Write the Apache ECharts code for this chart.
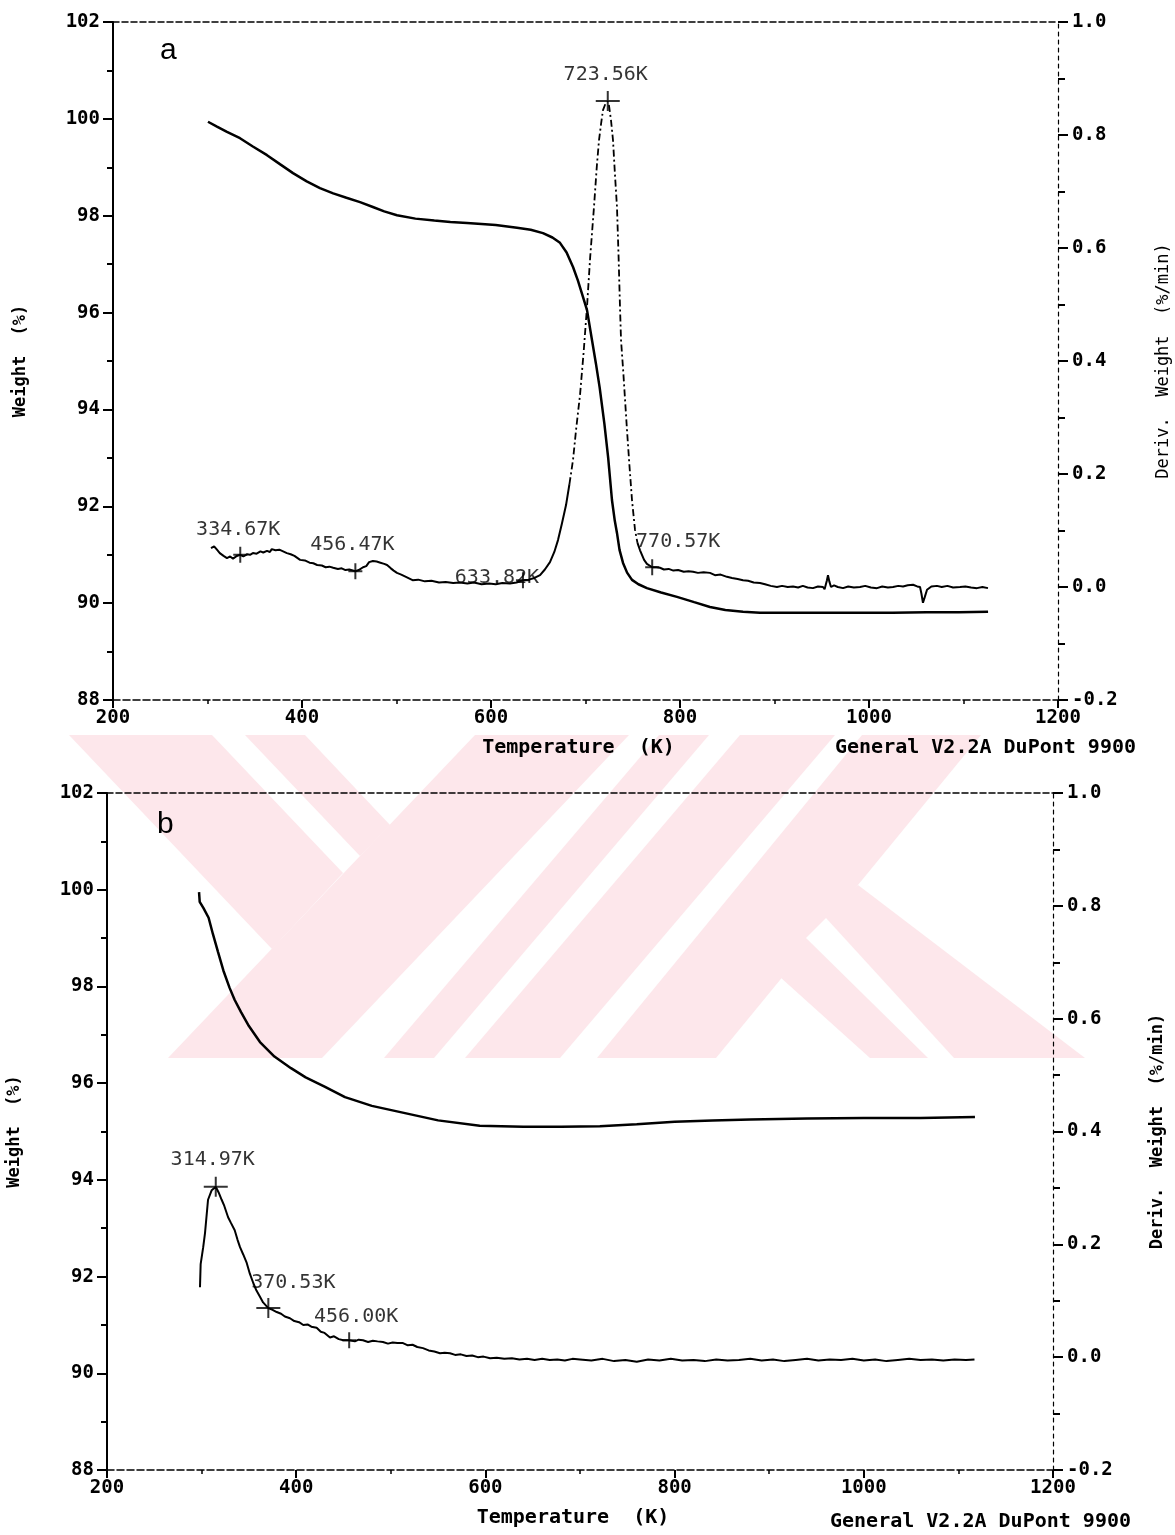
<!DOCTYPE html>
<html><head><meta charset="utf-8">
<script src="https://cdn.jsdelivr.net/npm/echarts@6/dist/echarts.min.js"></script>
<style>html,body{margin:0;padding:0;background:#fff}#c{width:1175px;height:1535px}</style>
</head><body><div id="c"></div>
<script>
// ---------- data ----------
const xTicks = [200, 400, 600, 800, 1000, 1200];
const weightTicks = [88, 90, 92, 94, 96, 98, 100, 102];
const derivTicks = [-0.2, 0.0, 0.2, 0.4, 0.6, 0.8, 1.0];

// panel a : weight (%) vs temperature (K)
const weightA = [
[300.5,99.94],[310,99.84],[320.6,99.73],[334.4,99.60],[348,99.43],[363,99.25],[377,99.06],
[390.5,98.88],[405,98.71],[419,98.57],[433,98.46],[447,98.37],[461.4,98.28],[475,98.18],
[487,98.09],[500.5,98.01],[520,97.94],[540,97.90],[557,97.87],[574.6,97.85],[590,97.83],
[605,97.81],[627.5,97.75],[642,97.71],[655,97.64],[665,97.55],[673,97.44],[680,97.24],
[686.8,96.94],[692,96.66],[697.4,96.32],[701.6,96.05],[706.9,95.43],[711,94.95],[715,94.45],
[720,93.70],[724,93.00],[728,92.13],[731,91.70],[733.3,91.45],[736,91.10],[739.7,90.83],
[744,90.63],[749.2,90.48],[756,90.39],[765,90.31],[780,90.22],[796.8,90.13],[815,90.02],
[831.7,89.92],[848,89.86],[866.7,89.82],[884.7,89.80],[920,89.80],[955.5,89.80],[990,89.80],
[1025,89.80],[1061,89.81],[1095,89.81],[1126,89.82]
];
// panel a : derivative weight (%/min)
const derivA = [
[303.7,0.069],[307,0.072],[310,0.066],[313,0.060],[317,0.055],[320.6,0.051],[324,0.054],
[327,0.050],[331,0.055],[334.67,0.057],[338,0.054],[342,0.058],[345,0.057],[348,0.060],
[352,0.059],[356,0.063],[359,0.061],[363,0.064],[366,0.062],[368,0.067],[372,0.065],
[376,0.066],[380,0.063],[384,0.060],[388,0.058],[392,0.055],[398,0.048],[403,0.047],
[408,0.043],[412,0.042],[416,0.039],[421,0.038],[425,0.035],[429,0.036],[433,0.034],
[438,0.032],[442,0.033],[446,0.030],[450,0.031],[456.47,0.028],[460,0.030],[464.6,0.035],
[468,0.037],[471,0.044],[475,0.046],[479,0.045],[483,0.043],[487,0.041],[490,0.039],
[494,0.033],[497,0.029],[500.5,0.025],[505,0.022],[510,0.018],[517,0.012],[523,0.013],
[530,0.010],[537,0.011],[545,0.008],[552,0.009],[560,0.007],[567,0.008],[575,0.006],
[582,0.008],[590,0.005],[598,0.006],[605,0.005],[612,0.007],[620,0.006],[627,0.008],
[633.82,0.012],[640,0.013],[646,0.016],[651.9,0.021],[657,0.031],[662.4,0.044],[667,0.062],
[670.9,0.083],[675,0.112],[679.4,0.145],[683,0.182],[686.8,0.225],[690,0.278],[694.2,0.340],
[698,0.415],[701.6,0.496],[705,0.585],[709,0.673],[712,0.745],[714.3,0.791],[716.5,0.820],
[718.5,0.844],[721,0.855],[723.56,0.860],[724.9,0.852],[727,0.826],[729.1,0.791],[731,0.735],
[733.3,0.673],[735,0.585],[736.5,0.496],[737.6,0.437],[740,0.380],[743.9,0.278],[746.5,0.215],
[749.2,0.154],[752.4,0.101],[755,0.078],[757.7,0.065],[762,0.048],[765,0.041],[770.57,0.035],
[775,0.035],[778.8,0.034],[783,0.031],[788,0.032],[793,0.029],[798,0.030],[804,0.027],
[809,0.028],[813.8,0.027],[819,0.025],[825,0.026],[831.7,0.025],[837,0.021],[843,0.022],
[849.7,0.018],[855,0.016],[861,0.014],[866.7,0.012],[872,0.011],[878,0.008],[884.7,0.007],
[890,0.005],[896,0.002],[902.6,0.000],[908,0.002],[914,0.000],[919.6,0.001],[925,-0.001],
[930,0.002],[935,-0.001],[940.7,-0.002],[946,0.001],[951.3,0.000],[953,-0.004],[955.5,0.012],
[956.6,0.021],[958,0.010],[959.8,0.000],[963,0.003],[967,0.000],[972.5,-0.002],[978,0.001],
[984,-0.001],[990.5,0.000],[996,0.002],[1002,-0.001],[1008.5,-0.002],[1014,0.001],[1020,-0.001],
[1025.4,0.000],[1031,0.002],[1036,0.001],[1041,0.003],[1046.6,0.004],[1051,0.001],[1054,0.000],
[1055.5,-0.012],[1057.1,-0.028],[1059,-0.018],[1061.4,-0.005],[1066,0.001],[1071.9,0.002],
[1077,0.000],[1083,0.002],[1089,-0.001],[1096.3,0.000],[1102,0.001],[1108,-0.001],
[1114.3,-0.002],[1120,0.000],[1125.9,-0.002]
];
const peaksA = [[334.67,0.057],[456.47,0.028],[633.82,0.012],[723.56,0.860],[770.57,0.035]];
const peakLabelsA = ['334.67K','456.47K','633.82K','723.56K','770.57K'];

// panel b
const weightB = [
[297.3,99.95],[298,99.75],[302,99.62],[307.4,99.42],[312,99.08],[317.4,98.71],[323,98.33],
[329.6,97.97],[335,97.72],[341.7,97.47],[350,97.18],[361.7,96.85],[377,96.55],[394.5,96.31],
[410,96.12],[430,95.93],[451.6,95.71],[480,95.53],[515,95.38],[550,95.23],[594,95.12],
[640,95.10],[680,95.10],[721,95.11],[760,95.15],[800,95.20],[840,95.23],[880,95.25],
[940,95.27],[1000,95.28],[1060,95.28],[1117.5,95.30]
];
const derivB = [
[298.3,0.124],[299,0.165],[301.7,0.195],[303.6,0.220],[306.8,0.279],[310.7,0.296],[314.97,0.302],
[318,0.292],[321.2,0.279],[324,0.268],[328,0.248],[331,0.238],[335,0.225],[338,0.208],
[340.6,0.195],[344,0.182],[347.7,0.167],[351,0.148],[354.7,0.131],[358,0.118],[361.7,0.107],
[365,0.097],[370.53,0.087],[375,0.084],[379.4,0.080],[384,0.077],[388,0.072],[393.4,0.069],
[398,0.064],[403,0.062],[407.5,0.057],[412,0.058],[416,0.054],[421.6,0.052],[426,0.045],
[430,0.043],[435.7,0.035],[440,0.037],[445,0.032],[449.8,0.030],[456.0,0.030],[462,0.028],
[466,0.031],[470.6,0.030],[476,0.027],[481,0.029],[486,0.028],[491.7,0.027],[497,0.024],
[502,0.026],[507,0.025],[512.9,0.025],[518,0.021],[523,0.022],[528,0.018],[534,0.016],
[540,0.012],[546,0.010],[552,0.007],[557,0.008],[562.6,0.007],[568,0.004],[574,0.005],
[580,0.002],[586,0.003],[592,0.000],[598,0.001],[605,-0.002],[612,-0.001],[620,-0.003],
[628,-0.002],[636,-0.004],[644,-0.003],[652,-0.005],[660,-0.003],[668,-0.005],[676,-0.004],
[684,-0.006],[692,-0.003],[700,-0.004],[712,-0.006],[724,-0.003],[736,-0.007],[748,-0.005],
[760,-0.008],[772,-0.004],[784,-0.006],[796,-0.003],[808,-0.006],[820,-0.005],[832,-0.007],
[844,-0.004],[856,-0.006],[868,-0.005],[880,-0.003],[892,-0.006],[904,-0.004],[916,-0.007],
[928,-0.005],[940,-0.003],[952,-0.006],[964,-0.004],[976,-0.005],[988,-0.003],[1000,-0.006],
[1012,-0.004],[1024,-0.007],[1036,-0.005],[1048,-0.003],[1060,-0.005],[1072,-0.004],
[1084,-0.006],[1096,-0.004],[1108,-0.005],[1117,-0.004]
];
const peaksB = [[314.97,0.302],[370.53,0.087],[456.00,0.030]];
const peakLabelsB = ['314.97K','370.53K','456.00K'];

// ---------- styling (positions, not data) ----------
const labelOffsetsA = [[-2,-25],[-3,-26],[-26,-2],[-2,-26],[26,-25]];
const bigMarkA = [false,false,false,true,false];
const labelOffsetsB = [[-3,-27],[25,-25],[7,-23]];
const bigMarkB = [true,true,false];

const MONO = '"DejaVu Sans Mono", "Liberation Mono", monospace';
const BIG = 'path://M-1,-10L1,-10L1,-1L12,-1L12,1L1,1L1,10L-1,10L-1,1L-12,1L-12,-1L-1,-1Z';
const SMALL = 'path://M-1,-8L1,-8L1,-1L7,-1L7,1L1,1L1,8L-1,8L-1,1L-7,1L-7,-1L-1,-1Z';

const grids = [
  {left: 113, top: 22, width: 945, height: 678, outerBoundsMode: 'none', containLabel: false},
  {left: 107, top: 793, width: 946, height: 677, outerBoundsMode: 'none', containLabel: false}
];

function xAxes(gi) {
  return [
    {gridIndex: gi, type: 'value', min: xTicks[0], max: xTicks[xTicks.length-1],
     interval: xTicks[1]-xTicks[0], position: 'bottom',
     name: 'Temperature  (K)', nameLocation: 'middle', nameGap: 38,
     nameTextStyle: {fontFamily: MONO, fontSize: 20, fontWeight: 'bold', color: '#000', padding: [0, 14, 0, 0]},
     axisLine: {onZero: false, lineStyle: {color: '#000', width: 1.5, type: [7, 3]}},
     axisTick: {show: true, length: 8, lineStyle: {color: '#000', width: 2}},
     minorTick: {show: true, splitNumber: 2, length: 4, lineStyle: {color: '#000', width: 1.5}},
     axisLabel: {margin: 9, fontFamily: MONO, fontSize: 19, fontWeight: 'bold', color: '#000',
                 formatter: v => String(v)},
     splitLine: {show: false}},
    {gridIndex: gi, type: 'value', min: xTicks[0], max: xTicks[xTicks.length-1],
     interval: xTicks[1]-xTicks[0], position: 'top',
     axisLine: {onZero: false, lineStyle: {color: '#000', width: 1.5, type: [6, 3]}},
     axisTick: {show: false}, axisLabel: {show: false}, splitLine: {show: false}}
  ];
}
function yAxes(gi, rightBold, rightGap) {
  return [
    {gridIndex: gi, type: 'value', min: weightTicks[0], max: weightTicks[weightTicks.length-1],
     interval: weightTicks[1]-weightTicks[0], position: 'left',
     name: 'Weight  (%)', nameLocation: 'middle', nameGap: 84, nameRotate: 90,
     nameTextStyle: {fontFamily: MONO, fontSize: 17, fontWeight: 'bold', color: '#000'},
     axisLine: {onZero: false, lineStyle: {color: '#000', width: 2}},
     axisTick: {length: 10, lineStyle: {color: '#000', width: 2}},
     minorTick: {show: true, splitNumber: 2, length: 6, lineStyle: {color: '#000', width: 2}},
     axisLabel: {margin: 13, fontFamily: MONO, fontSize: 19, fontWeight: 'bold', color: '#000',
                 formatter: v => String(v)},
     splitLine: {show: false}},
    {gridIndex: gi, type: 'value', min: derivTicks[0], max: derivTicks[derivTicks.length-1],
     interval: 0.2, position: 'right',
     name: 'Deriv.  Weight  (%/min)', nameLocation: 'middle', nameGap: rightGap, nameRotate: 90,
     nameTextStyle: {fontFamily: MONO, fontSize: 17, fontWeight: rightBold ? 'bold' : 'normal', color: '#000'},
     axisLine: {onZero: false, lineStyle: {color: '#000', width: 1.2, type: [4, 4]}},
     axisTick: {length: 10, lineStyle: {color: '#000', width: 2}},
     minorTick: {show: true, splitNumber: 2, length: 7, lineStyle: {color: '#000', width: 2}},
     axisLabel: {margin: 14, fontFamily: MONO, fontSize: 19, fontWeight: 'bold', color: '#000',
                 formatter: v => v.toFixed(1)},
     splitLine: {show: false}}
  ];
}

function lineSeries(data, xi, yi, width, dash) {
  return {type: 'line', data: data, xAxisIndex: xi, yAxisIndex: yi, showSymbol: false,
          symbol: 'none', smooth: false, silent: true, animation: false, z: 3,
          lineStyle: {color: '#000', width: width, type: dash || 'solid'}};
}
function markSeries(pts, labels, offsets, bigs, xi, yi) {
  return {type: 'scatter', xAxisIndex: xi, yAxisIndex: yi, animation: false, z: 4,
    data: pts.map((p, i) => ({
      value: p, symbol: bigs[i] ? BIG : SMALL, symbolSize: bigs[i] ? [24, 20] : [14, 16],
      label: {show: true, position: 'inside', offset: offsets[i], formatter: labels[i],
              color: '#000', textBorderWidth: 0, fontFamily: MONO, fontSize: 20}
    })),
    itemStyle: {color: '#000'},
    label: {fontFamily: MONO, fontSize: 20, color: '#000', fontWeight: 'normal', textBorderWidth: 0}};
}

const derivA1 = derivA.filter(p => p[0] <= 683);
const derivA2 = derivA.filter(p => p[0] >= 683 && p[0] <= 755);
const derivA3 = derivA.filter(p => p[0] >= 755);

// watermark (background decoration)
const PINK = '#fde7eb';
const wmPink = [
  [[69,735],[212,735],[343,873],[272,949]],
  [[245,735],[305,735],[390,825],[360,856]],
  [[475,735],[629,735],[322,1058],[168,1058]],
  [[659,735],[709,735],[434,1058],[384,1058]],
  [[740,735],[835,735],[560,1058],[465,1058]],
  [[862,735],[981,735],[716,1058],[597,1058]],
  [[770,968],[858,885],[1085,1058],[870,1058]]
];
const wmWhite = [
  [[806,938],[826,918],[954,1058],[928,1058]]
];
const wm = [
  ...wmPink.map(pts => ({type: 'polygon', z: -10, silent: true, shape: {points: pts}, style: {fill: PINK}})),
  ...wmWhite.map(pts => ({type: 'polygon', z: -9, silent: true, shape: {points: pts}, style: {fill: '#fff'}}))
];

const option = {
  backgroundColor: '#fff',
  animation: false,
  grid: grids,
  xAxis: [...xAxes(0), ...xAxes(1)],
  yAxis: [...yAxes(0, false, 97), ...yAxes(1, true, 96)],
  series: [
    lineSeries(weightA, 0, 0, 2.5),
    lineSeries(derivA1, 0, 1, 2),
    lineSeries(derivA2, 0, 1, 1.8, [7, 3, 2, 3]),
    lineSeries(derivA3, 0, 1, 2),
    markSeries(peaksA, peakLabelsA, labelOffsetsA, bigMarkA, 0, 1),
    lineSeries(weightB, 2, 2, 2.5),
    lineSeries(derivB, 2, 3, 2),
    markSeries(peaksB, peakLabelsB, labelOffsetsB, bigMarkB, 2, 3)
  ],
  graphic: [
    ...wm,
    {type: 'text', left: 160, top: 36, style: {text: 'a', font: '30px "Liberation Sans", Arial', fill: '#000'}},
    {type: 'text', left: 157, top: 810, style: {text: 'b', font: '30px "Liberation Sans", Arial', fill: '#000'}},
    {type: 'text', left: 835, top: 738, style: {text: 'General V2.2A DuPont 9900', font: 'bold 20px ' + MONO, fill: '#000'}},
    {type: 'text', left: 830, top: 1512, style: {text: 'General V2.2A DuPont 9900', font: 'bold 20px ' + MONO, fill: '#000'}}
  ]
};
const chart = echarts.init(document.getElementById('c'), null, {renderer: 'canvas'});
chart.setOption(option);
</script></body></html>
